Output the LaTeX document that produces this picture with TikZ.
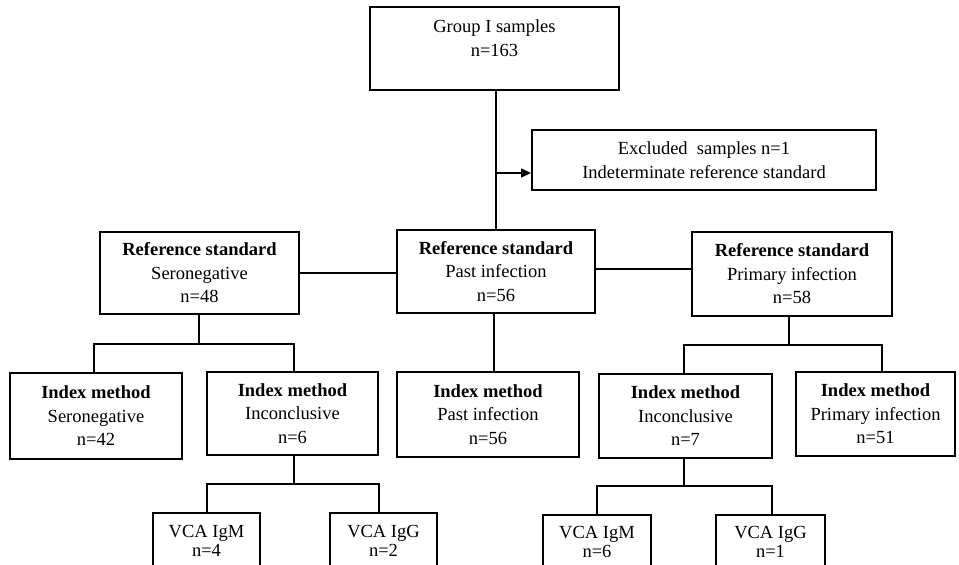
\documentclass[tikz,border=0pt]{standalone}
\usepackage{fontspec}
\setmainfont{Liberation Serif}
\usetikzlibrary{arrows.meta}
\begin{document}
\begin{tikzpicture}[x=1pt,y=-1pt,
  box/.style={draw=black,line width=1.9pt,rectangle,inner sep=0pt,align=center,
    font=\fontsize{18.5}{23.5}\selectfont},
  txt/.style={inner sep=0pt,align=center,font=\fontsize{18.5}{24.5}\selectfont},
  vtxt/.style={inner sep=0pt,align=center,font=\fontsize{18.5}{19.5}\selectfont},
  conn/.style={draw=black,line width=1.3pt},
  arr/.style={conn,-{Triangle[length=10pt,width=9pt]}}]
\clip (0,0) rectangle (959,565);
\fill[white] (0,0) rectangle (959,565);
% top
\node[box,minimum width=249pt,minimum height=83pt] (grp) at (494.5,48.5) {};
\node[txt] (grpt) at (494.5,38) {Group I samples\\n=163};
\node[box,minimum width=344pt,minimum height=60pt] (exc) at (704,160)
  {Excluded\ \ samples n=1\\Indeterminate reference standard};
% reference standard row
\node[box,minimum width=199pt,minimum height=82pt] (rs1) at (199.5,273)
  {\textbf{Reference standard}\\Seronegative\\n=48};
\node[box,minimum width=198pt,minimum height=83pt] (rs2) at (496,271.5)
  {\textbf{Reference standard}\\Past infection\\n=56};
\node[box,minimum width=200pt,minimum height=84pt] (rs3) at (792,274)
  {\textbf{Reference standard}\\Primary infection\\n=58};
% index method row
\node[box,minimum width=172pt,minimum height=86pt] (i1) at (96,416)
  {\textbf{Index method}\\Seronegative\\n=42};
\node[box,minimum width=171pt,minimum height=83pt] (i2) at (292.5,413.5)
  {\textbf{Index method}\\Inconclusive\\n=6};
\node[box,minimum width=182pt,minimum height=85pt] (i3) at (488,414.5)
  {\textbf{Index method}\\Past infection\\n=56};
\node[box,minimum width=173pt,minimum height=84pt] (i4) at (685.5,416)
  {\textbf{Index method}\\Inconclusive\\n=7};
\node[box,minimum width=159pt,minimum height=84pt] (i5) at (875.5,414)
  {\textbf{Index method}\\Primary infection\\n=51};
% VCA row (cut off at bottom)
\node[box,minimum width=107pt,minimum height=60pt] (v1) at (206.5,543) {};
\node[box,minimum width=107pt,minimum height=60pt] (v2) at (383.5,543) {};
\node[box,minimum width=108pt,minimum height=60pt] (v3) at (597,545) {};
\node[box,minimum width=109pt,minimum height=60pt] (v4) at (770.5,545) {};
\node[vtxt] (v1t) at (206.5,541) {VCA IgM\\n=4};
\node[vtxt] (v2t) at (383.5,541) {VCA IgG\\n=2};
\node[vtxt] (v3t) at (597,542) {VCA IgM\\n=6};
\node[vtxt] (v4t) at (770.5,542) {VCA IgG\\n=1};
% connectors
\draw[conn] (496,90) -- (496,230);
\coordinate (ea) at (496,173);
\draw[arr] (ea) -- (ea -| exc.west);
\draw[conn] (rs1.east |- 0,273) -- (rs2.west |- 0,273);
\draw[conn] (rs2.east |- 0,269) -- (rs3.west |- 0,269);
% seronegative branch
\coordinate (b1) at (199,344);
\draw[conn] (rs1.south -| b1) -- (b1);
\draw[conn] (94,373) |- (b1) -| (294,372);
% past infection
\draw[conn] (494,313) -- (494,372);
% primary branch
\coordinate (b3) at (789,345);
\draw[conn] (rs3.south -| b3) -- (b3);
\draw[conn] (684,374) |- (b3) -| (882,372);
% inconclusive 1
\coordinate (b4) at (294,484);
\draw[conn] (i2.south -| b4) -- (b4);
\draw[conn] (207,513) |- (b4) -| (379,513);
% inconclusive 2
\coordinate (b5) at (684,486);
\draw[conn] (i4.south -| b5) -- (b5);
\draw[conn] (597,515) |- (b5) -| (772,515);
\end{tikzpicture}
\end{document}
